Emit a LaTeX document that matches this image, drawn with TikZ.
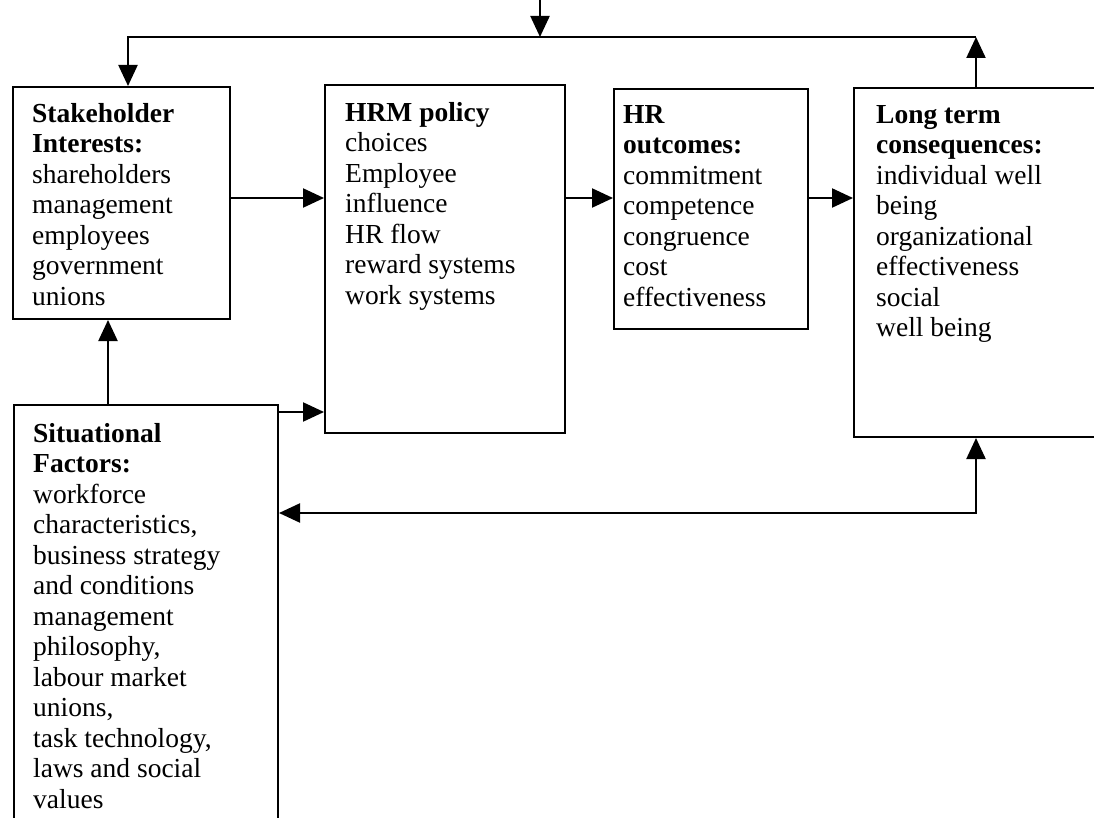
\documentclass[tikz,border=0pt]{standalone}
\usepackage{fontspec}
\setmainfont{Liberation Serif}
\usetikzlibrary{positioning, arrows.meta}

\begin{document}
\begin{tikzpicture}[
                x = 1pt, y = 1pt,
                > = {Triangle[length=21pt, width=19pt]}, % arrow head style
                conn/.style = {line width = 2.2pt, ->},
                twoway/.style = {line width = 2.2pt, <->},
                box/.style = {draw, rectangle, line width = 2pt, inner sep = 0pt,
                              anchor = north west},
                txt/.style = {inner sep = 0pt, align = left,
                              font = \fontsize{27.5}{30.5}\selectfont}
            ]
            \useasboundingbox (0,0) rectangle (1094,-818);

            % boxes
            \node (stake) [box, minimum width = 217pt, minimum height = 232pt] at (12,-86) {};
            \node (hrm) [box, minimum width = 240pt, minimum height = 348pt] at (324,-84) {};
            \node (hro) [box, minimum width = 194pt, minimum height = 240pt] at (613,-88) {};
            \node (lt) [box, minimum width = 270pt, minimum height = 349pt] at (853,-87) {};
            \node (sit) [box, minimum width = 264pt, minimum height = 440pt] at (13,-404) {};

            % texts
            \node (stake-txt) [txt, below right = 17pt and 20pt of stake.north west]
            {\textbf{Stakeholder}\\ \textbf{Interests:}\\ shareholders\\ management\\
             employees\\ government\\ unions};
            \node (hrm-txt) [txt, below right = 18pt and 21pt of hrm.north west]
            {\textbf{HRM policy}\\ choices\\ Employee\\ influence\\ HR flow\\
             reward systems\\ work systems};
            \node (hro-txt) [txt, below right = 17pt and 10pt of hro.north west]
            {\textbf{HR}\\ \textbf{outcomes:}\\ commitment\\ competence\\ congruence\\
             cost\\ effectiveness};
            \node (lt-txt) [txt, below right = 18pt and 23pt of lt.north west]
            {\textbf{Long term}\\ \textbf{consequences:}\\ individual well\\ being\\
             organizational\\ effectiveness\\ social\\ well being};
            \node (sit-txt) [txt, below right = 19pt and 20pt of sit.north west]
            {\textbf{Situational}\\ \textbf{Factors:}\\ workforce\\ characteristics,\\
             business strategy\\ and conditions\\ management\\ philosophy,\\
             labour market\\ unions,\\ task technology,\\ laws and social\\ values};

            % helper points
            \coordinate (in) at (540,0);
            \coordinate (fbL) at (128,-37);
            \coordinate (fbR) at (976,-37);
            \coordinate (fbB) at (976,-513);
            \coordinate (up) at (108,0);
            \coordinate (mid) at (0,-198);

            % connectors
            \draw[conn] (in) -- (in |- fbL);
            \draw[conn] (fbR) -- (fbL) -- (fbL |- stake.north);
            \draw[conn] (fbR |- lt.north) -- (fbR);
            \draw[conn] (stake.east |- mid) -- (hrm.west |- mid);
            \draw[conn] (hrm.east |- mid) -- (hro.west |- mid);
            \draw[conn] (hro.east |- mid) -- (lt.west |- mid);
            \draw[conn] (up |- sit.north) -- (up |- stake.south);
            \draw[conn] ([yshift=-8pt]sit.north east) -- ([yshift=-8pt]sit.north east -| hrm.west);
            \draw[twoway] (fbB -| sit.east) -- (fbB) -- (fbB |- lt.south);

        \end{tikzpicture}
\end{document}
